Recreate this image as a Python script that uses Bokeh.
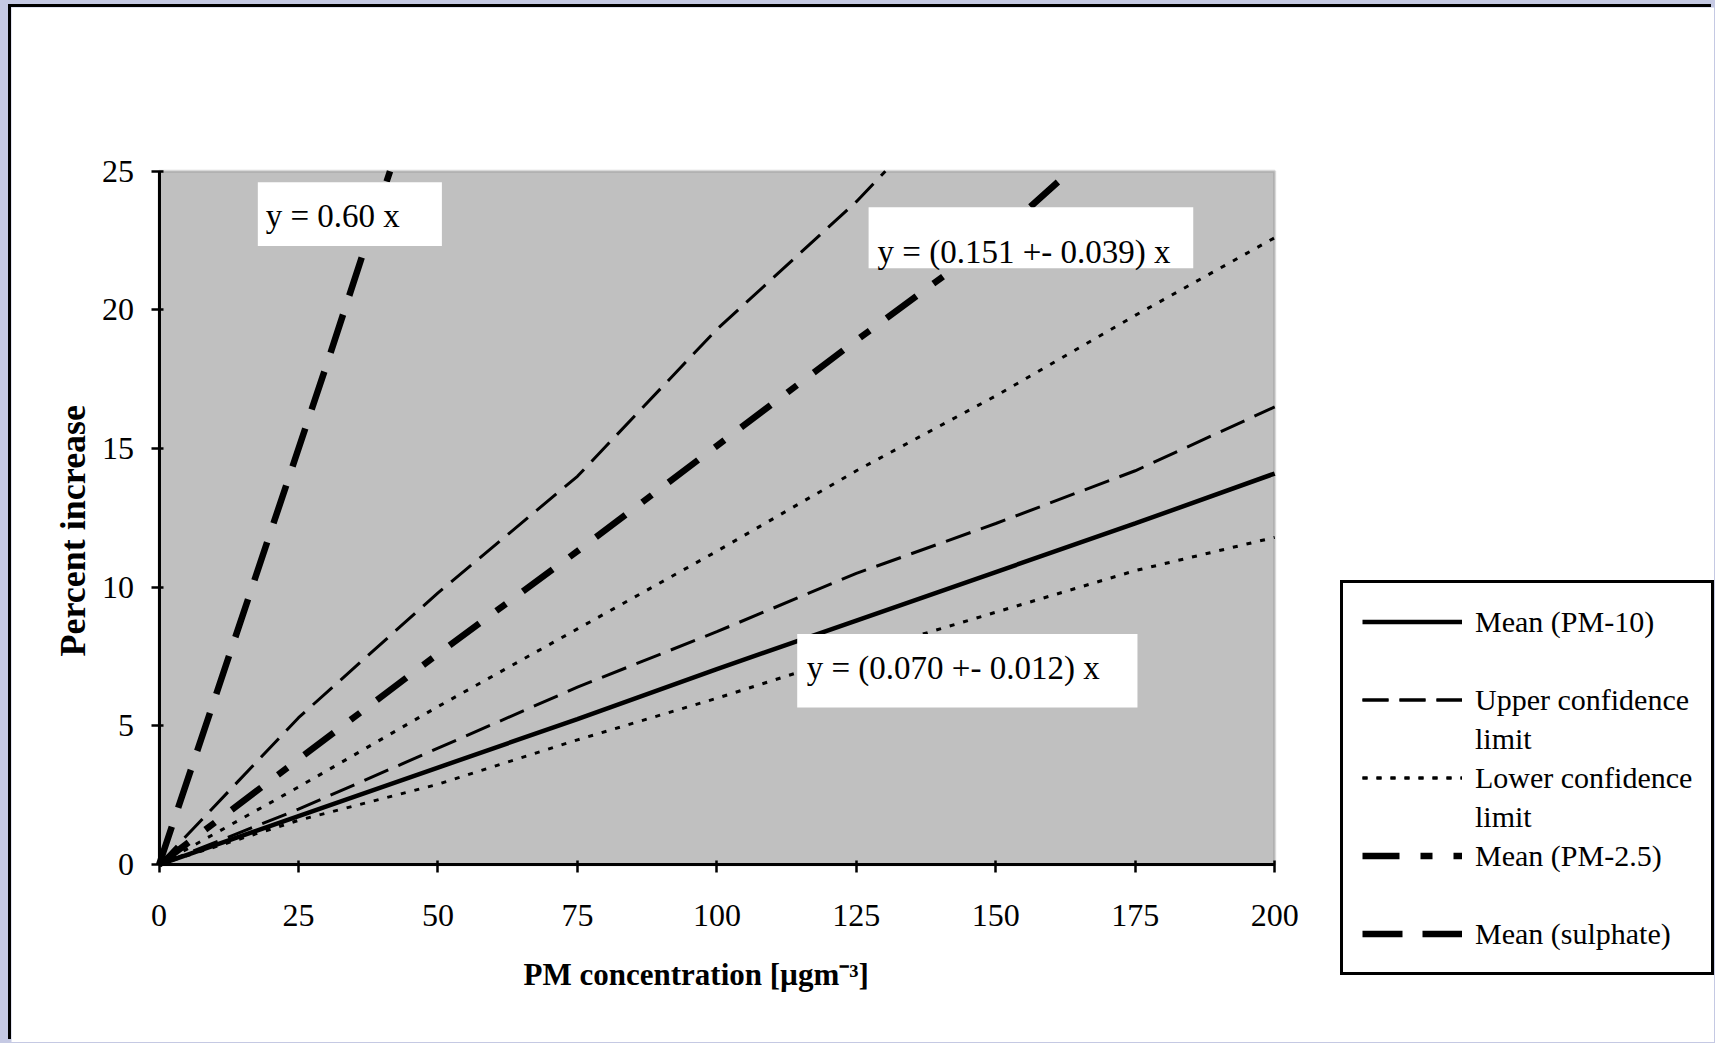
import math
from bokeh.plotting import figure
from bokeh.models import (Range1d, FixedTicker, Legend, LegendItem, Label,
                          BoxAnnotation, GlobalInlineStyleSheet)
from bokeh.embed import file_html
from bokeh.resources import INLINE

# ---------------- data ----------------
x_ticks = [0, 25, 50, 75, 100, 125, 150, 175, 200]
y_ticks = [0, 5, 10, 15, 20, 25]

x_pm10 = [0, 25, 50, 75, 100, 125, 150, 175, 200]
mean_pm10 = [0, 1.75, 3.5, 5.25, 7.05, 8.8, 10.55, 12.3, 14.1]
upper_pm10 = [0, 2.0, 4.2, 6.4, 8.4, 10.5, 12.3, 14.2, 16.5]
lower_pm10 = [0, 1.6, 2.9, 4.5, 6.0, 7.6, 9.1, 10.6, 11.8]

x_pm25_mean = [0, 25, 50, 75, 100, 125, 150, 163.3]
mean_pm25 = [0, 3.8, 7.6, 11.3, 15.1, 18.9, 22.6, 25.0]
x_pm25_upper = [0, 25, 50, 75, 100, 125, 130.2]
upper_pm25 = [0, 5.3, 9.8, 14.0, 19.3, 23.9, 25.0]
x_pm25_lower = [0, 25, 50, 75, 100, 125, 150, 175, 200]
lower_pm25 = [0, 2.8, 5.7, 8.5, 11.3, 14.2, 16.9, 19.8, 22.6]

x_sulphate = [0, 10, 20, 30, 41.4]
mean_sulphate = [0, 6.0, 12.0, 18.0, 25.0]

legend_labels = ["Mean (PM-10)", "Upper confidence", "limit", "Lower confidence",
                 "limit", "Mean (PM-2.5)", "Mean (sulphate)"]
eq_texts = ["y = 0.60 x", "y = (0.151 +- 0.039) x", "y = (0.070 +- 0.012) x"]
x_title = "PM concentration [\u00b5gm\u207b\u00b3]"
y_title = "Percent increase"

FONT = "Liberation Serif"

# the frame covers the whole canvas; the plot area (0..200, 0..25) is drawn inside it
p = figure(width=1703, height=1035,
           x_range=Range1d(-26.46, 278.85), y_range=Range1d(-6.41, 30.90),
           output_backend="svg", toolbar_location=None,
           min_border_left=0, min_border_right=0,
           min_border_top=0, min_border_bottom=0)

p.stylesheets = [GlobalInlineStyleSheet(css="html, body { background-color: #C5C9E3; }")]
p.styles = {"margin-left": "11px", "margin-top": "7px",
            "box-shadow": "-3px -3px 0px 0px black"}

p.background_fill_color = "white"
p.border_fill_color = "white"
p.outline_line_color = None
p.grid.visible = False

# plot area
p.add_layout(BoxAnnotation(left=0, right=200, bottom=0, top=25, fill_color="#C0C0C0",
                           fill_alpha=1, line_color="#808080", line_width=3,
                           level="underlay"))

for ax in (p.xaxis[0], p.yaxis[0]):
    ax.axis_line_color = "black"
    ax.axis_line_width = 3
    ax.major_tick_line_color = "black"
    ax.major_tick_line_width = 2.5
    ax.major_tick_out = 8
    ax.major_tick_in = 4
    ax.minor_tick_line_color = None
    ax.major_label_text_font = FONT
    ax.major_label_text_font_size = "32px"
    ax.major_label_text_color = "black"
    ax.fixed_location = 0

p.xaxis.ticker = FixedTicker(ticks=x_ticks)
p.yaxis.ticker = FixedTicker(ticks=y_ticks)
p.xaxis.bounds = (0, 200)
p.yaxis.bounds = (0, 25)
p.xaxis.major_label_standoff = 32
p.yaxis.major_label_standoff = 17

p.add_layout(Label(x=96.3, y=-3.96, text=x_title, text_font=FONT, text_font_size="31px",
                   text_font_style="bold", text_align="center", text_baseline="middle",
                   text_color="black"))
p.add_layout(Label(x=-15.35, y=12.04, text=y_title, text_font=FONT, text_font_size="36px",
                   text_font_style="bold", text_align="center", text_baseline="middle",
                   angle=math.pi / 2, text_color="black"))

# ---------------- lines ----------------
r_mean10 = p.line(x_pm10, mean_pm10, line_color="black", line_width=4.5)
r_up10 = p.line(x_pm10, upper_pm10, line_color="black", line_width=3, line_dash="26 11")
r_lo10 = p.line(x_pm10, lower_pm10, line_color="black", line_width=3, line_dash="5 9")
r_mean25 = p.line(x_pm25_mean, mean_pm25, line_color="black", line_width=6.5,
                  line_dash="37 21 12 21")
r_up25 = p.line(x_pm25_upper, upper_pm25, line_color="black", line_width=3, line_dash="26 11")
r_lo25 = p.line(x_pm25_lower, lower_pm25, line_color="black", line_width=3, line_dash="5 9")
r_sul = p.line(x_sulphate, mean_sulphate, line_color="black", line_width=6.5, line_dash="40 20")
r_blank = p.line([], [], line_alpha=0)   # spacer entries of the legend

# ---------------- equation boxes ----------------
eq_boxes = [(17.7, 50.7, 22.3, 24.6), (127.2, 185.4, 21.5, 23.7), (114.4, 175.4, 5.67, 8.32)]
eq_pos = [(19.1, 23.38), (128.8, 22.1), (116.1, 7.1)]
for (l, r, b, t), (tx, ty), txt in zip(eq_boxes, eq_pos, eq_texts):
    p.add_layout(BoxAnnotation(left=l, right=r, bottom=b, top=t, fill_color="white",
                               fill_alpha=1, line_alpha=0))
    p.add_layout(Label(x=tx, y=ty, text=txt, text_font=FONT, text_font_size="33px",
                       text_baseline="middle", text_align="left", text_color="black"))

# ---------------- legend ----------------
items = [LegendItem(label=legend_labels[0], renderers=[r_mean10]),
         LegendItem(label=" ", renderers=[r_blank]),
         LegendItem(label=legend_labels[1], renderers=[r_up10, r_up25]),
         LegendItem(label=legend_labels[2], renderers=[r_blank]),
         LegendItem(label=legend_labels[3], renderers=[r_lo10, r_lo25]),
         LegendItem(label=legend_labels[4], renderers=[r_blank]),
         LegendItem(label=legend_labels[5], renderers=[r_mean25]),
         LegendItem(label=" ", renderers=[r_blank]),
         LegendItem(label=legend_labels[6], renderers=[r_sul])]
legend = Legend(items=items, location=(1329, 67), padding=19, margin=0,
                spacing=0, glyph_width=100, glyph_height=39, label_height=39,
                label_standoff=13, label_text_font=FONT, label_text_font_size="30px",
                label_text_color="black", border_line_color="black",
                border_line_width=3, border_line_alpha=1,
                background_fill_color="white", background_fill_alpha=1)
p.add_layout(legend, "center")

open("out.html", "w").write(file_html(p, INLINE))
